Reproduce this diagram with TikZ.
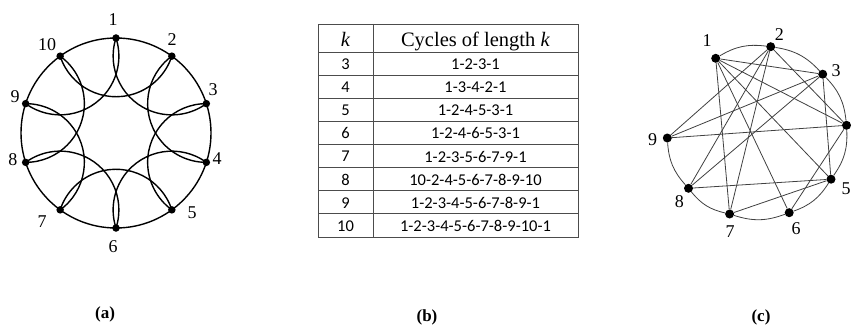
\documentclass[tikz,border=0pt]{standalone}
\usepackage{fontspec}
\setmainfont{Liberation Serif}
\newfontfamily\califont{Carlito}
\begin{document}
\begin{tikzpicture}[x=1pt,y=-1pt,
  dotA/.style={circle,fill=black,inner sep=0pt,minimum size=7.5pt},
  dotC/.style={circle,fill=black,inner sep=0pt,minimum size=9pt},
  edgeA/.style={line width=1.4pt,black},
  edgeC/.style={line width=0.8pt,black!75},
  lbl/.style={font=\fontsize{18}{20}\selectfont,inner sep=0pt},
  tline/.style={line width=0.9pt,black!70},
  cell/.style={font=\califont\fontsize{16.5}{18}\selectfont,inner sep=0pt},
  hcell/.style={font=\fontsize{20.5}{22}\selectfont,inner sep=0pt,anchor=base},
  captext/.style={font=\bfseries\fontsize{17}{19}\selectfont,inner sep=0pt,anchor=base}]
\useasboundingbox (0,0) rectangle (858,326);

% ---------- (a) ----------
\coordinate (ca) at (116,133);
\draw[edgeA] (ca) circle[radius=95];
\foreach \k in {1,...,10}{
  \pgfmathsetmacro\ang{-90+36*(\k-1)}
  \node[dotA] (a\k) at ([shift={(\ang:95)}]ca) {};
}
\pgfmathsetmacro\sA{2*95*sin(18)}
\foreach \j in {1,...,10}{
  \pgfmathtruncatemacro\i{mod(\j+8,10)+1}
  \pgfmathsetmacro\sa{-90+36*(\j-1)-108}
  \pgfmathsetmacro\ea{\sa-144}
  \draw[edgeA] (a\i.center) arc[start angle=\sa, end angle=\ea, radius=\sA];
}
\foreach \k/\x/\y in {1/113/20, 2/172/40, 3/213/90, 4/217/159, 5/192/213,
                      6/113/247, 7/42/222, 8/13/160, 9/15/97, 10/47/45}
  \node[lbl] (la\k) at (\x,\y) {\k};

% ---------- (b) ----------
\draw[tline] (318,24) rectangle (578,237);
\draw[tline] (373,24) -- (373,237);
\foreach \r in {0,...,7}
  \draw[tline] (318,{52+23.125*\r}) -- (578,{52+23.125*\r});
\node[hcell] (hk) at (345.5,46.5) {\textit{k}};
\node[hcell] (hc) at (475.5,46.5) {Cycles of length \textit{k}};
\foreach \r/\kk/\cyc in {0/3/1-2-3-1, 1/4/1-3-4-2-1, 2/5/1-2-4-5-3-1,
    3/6/1-2-4-6-5-3-1, 4/7/1-2-3-5-6-7-9-1, 5/8/10-2-4-5-6-7-8-9-10,
    6/9/1-2-3-4-5-6-7-8-9-1, 7/10/1-2-3-4-5-6-7-8-9-10-1}{
  \node[cell] (tk\r) at (345.5,{52+23.125*(\r+0.5)+0.5}) {\kk};
  \node[cell] (tc\r) at (475.5,{52+23.125*(\r+0.5)+0.5}) {\cyc};
}

% ---------- (c) ----------
\foreach \k/\x/\y in {1/715.7/58.3, 2/770.7/46.7, 3/822.7/74.2, 4/846.5/125.3,
                      5/831/179.2, 6/789.2/212.7, 7/729.6/214, 8/688.5/188.3,
                      9/667.3/138}
  \node[dotC] (c\k) at (\x,\y) {};
\foreach \a/\b in {1/2,2/3,3/4,4/5,5/6,6/7,7/8,8/9}
  \draw[edgeC] (c\a) to[bend left=19] (c\b);
\foreach \a/\b in {1/3,1/4,1/5,1/6,1/7,2/4,2/7,2/8,2/9,3/5,3/8,3/9,4/6,4/9,5/7,5/8}
  \draw[edgeC] (c\a) -- (c\b);
\foreach \k/\x/\y in {1/707/41, 2/779.3/35, 3/836/70.7, 9/652.5/140,
                      8/679.3/201.7, 7/730/231.7, 5/846/188.3, 6/796/228.3}
  \node[lbl] (lc\k) at (\x,\y) {\k};

% ---------- captions ----------
\node[captext] (capa) at (105,318.5) {(a)};
\node[captext] (capb) at (427,321.5) {(b)};
\node[captext] (capc) at (761,321.5) {(c)};
\end{tikzpicture}
\end{document}
